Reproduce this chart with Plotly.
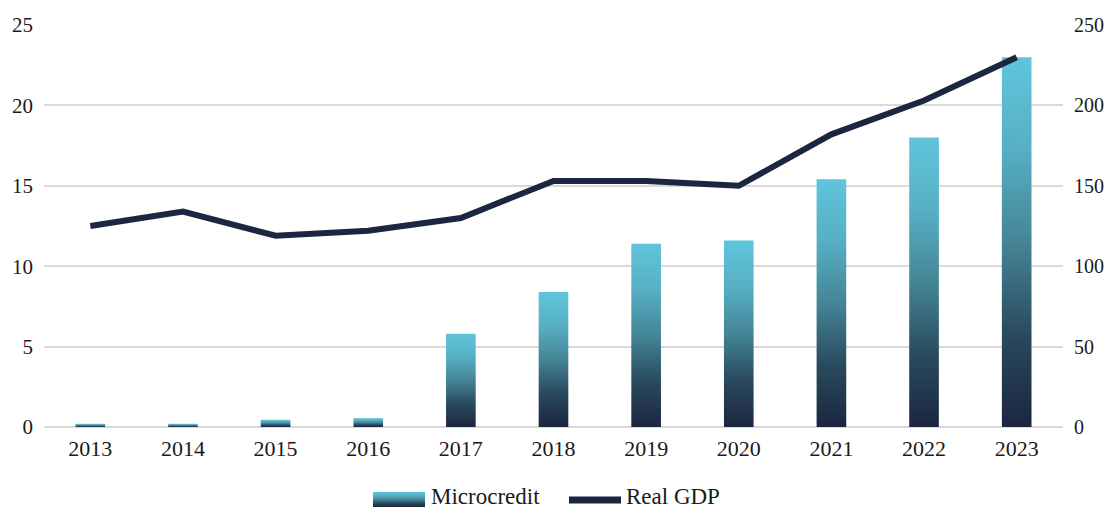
import plotly.graph_objects as go

years = [2013, 2014, 2015, 2016, 2017, 2018, 2019, 2020, 2021, 2022, 2023]
microcredit = [0.2, 0.2, 0.45, 0.55, 5.8, 8.4, 11.4, 11.6, 15.4, 18.0, 23.0]
real_gdp = [125, 134, 119, 122, 130, 153, 153, 150, 182, 203, 230]

left_ticks = [0, 5, 10, 15, 20, 25]
right_ticks = [0, 50, 100, 150, 200, 250]

DARK = "#1b2640"
grad = [[0, "#1b2640"], [0.25, "#2a4a5e"], [0.5, "#448596"], [0.75, "#57afc4"], [1, "#5fc5dc"]]
FONT = "Liberation Serif"
TXT = "#1a1a1a"
half = 0.16

OFF = 8  # page body margin offset
W, H = 1112, 508
# plot area in screenshot pixels: x 44..1063, y 25..427
L, T = 44 - OFF, 25 - OFF
R = W - (1063 - OFF)
B = H - (427 - OFF)
PW, PH = W - L - R, H - T - B


def px(x):
    return (x - OFF - L) / PW


def py(y):
    return (H - B - (y - OFF)) / PH


def hex2rgb(h):
    h = h.lstrip("#")
    return tuple(int(h[i:i + 2], 16) for i in (0, 2, 4))


def color_at(t):
    for (a, ca), (b, cb) in zip(grad[:-1], grad[1:]):
        if a <= t <= b:
            f = (t - a) / (b - a)
            c1, c2 = hex2rgb(ca), hex2rgb(cb)
            return "rgb(%d,%d,%d)" % tuple(round(c1[k] + (c2[k] - c1[k]) * f) for k in range(3))
    return grad[-1][1]


fig = go.Figure()
for i, (yr, v) in enumerate(zip(years, microcredit)):
    fig.add_trace(go.Scatter(
        x=[yr - half, yr - half, yr + half, yr + half, yr - half],
        y=[0, v, v, 0, 0],
        mode="none", fill="toself",
        fillgradient=dict(type="vertical", colorscale=grad),
        name="Microcredit", showlegend=False,
        hoverinfo="skip",
    ))

fig.add_trace(go.Scatter(
    x=years, y=real_gdp, mode="lines", name="Real GDP", yaxis="y2",
    line=dict(color=DARK, width=6), showlegend=False,
))

# custom legend (gradient swatch + line swatch)
shapes = []
sw_top, sw_bot = 492, 507
n = sw_bot - sw_top
for k in range(n):
    t = 1 - (k + 0.5) / n
    shapes.append(dict(type="rect", xref="paper", yref="paper",
                       x0=px(373), x1=px(425), y0=py(sw_top + k), y1=py(sw_top + k + 1.05),
                       fillcolor=color_at(t), line=dict(width=0), layer="above"))
shapes.append(dict(type="line", xref="paper", yref="paper",
                   x0=px(569), x1=px(621), y0=py(500), y1=py(500),
                   line=dict(color=DARK, width=7)))

annotations = [
    dict(text="Microcredit", xref="paper", yref="paper", x=px(429), y=py(496),
         xanchor="left", yanchor="middle", showarrow=False, font=dict(size=23, color=TXT)),
    dict(text="Real GDP", xref="paper", yref="paper", x=px(624), y=py(496),
         xanchor="left", yanchor="middle", showarrow=False, font=dict(size=23, color=TXT)),
]

fig.update_layout(
    width=W, height=H,
    margin=dict(l=L, r=R, t=T, b=B),
    plot_bgcolor="white", paper_bgcolor="white",
    font=dict(family=FONT, size=22, color=TXT),
    xaxis=dict(range=[2012.5, 2023.5], tickvals=years, ticktext=[str(y) for y in years],
               showgrid=False, zeroline=False, showline=False, ticks="",
               automargin=False, ticklabelstandoff=6, tickfont=dict(size=22)),
    yaxis=dict(range=[0, 25], tickvals=left_ticks, showgrid=True, gridcolor="#d9d9d9",
               gridwidth=2, zeroline=True, zerolinecolor="#d9d9d9", zerolinewidth=2,
               ticks="", ticklabelstandoff=10, automargin=False, tickfont=dict(size=21)),
    yaxis2=dict(range=[0, 250], tickvals=right_ticks, overlaying="y", side="right",
                showgrid=False, zeroline=False, ticks="", ticklabelstandoff=10,
                automargin=False, tickfont=dict(size=20)),
    showlegend=False,
    shapes=shapes,
    annotations=annotations,
)

fig.write_html("out.html")
